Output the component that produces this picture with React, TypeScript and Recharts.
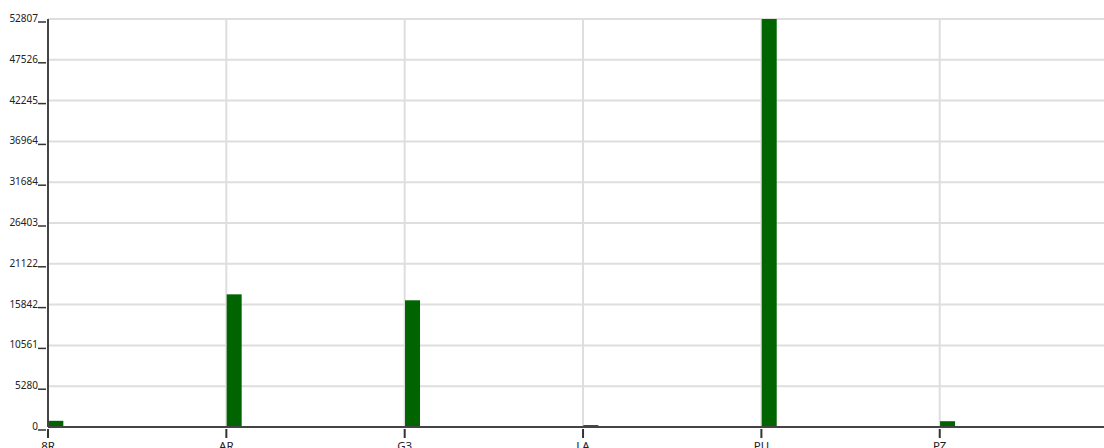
import React from 'react';
import { BarChart, Bar, XAxis, YAxis, CartesianGrid } from 'recharts';

// category labels and values
const CATEGORIES = ['8R', 'AR', 'G3', 'LA', 'PU', 'PZ'];
const VALUES = [800, 17170, 16400, 250, 52807, 750];
const Y_TICKS = [0, 5280, 10561, 15842, 21122, 26403, 31684, 36964, 42245, 47526, 52807];
// the plot runs past the right edge of the picture
const X_DOMAIN_MAX = 6.05;

const data = CATEGORIES.map((name, i) => ({ idx: i, name, value: VALUES[i] }));

const FONT = '"Noto Sans", "Open Sans", sans-serif';

const YTick: React.FC<any> = ({ x, y, payload }) => (
  <g>
    <line x1={x - 8} x2={x} y1={y + 3} y2={y + 3} stroke="#333" strokeWidth={1.5} />
    <text x={x - 8} y={y + 3} textAnchor="end" fontSize={10} fontFamily={FONT} fill="#222">
      {payload.value}
    </text>
  </g>
);

const XTick: React.FC<any> = ({ x, y, payload }) => (
  <g>
    <line x1={x} x2={x} y1={y} y2={y + 9} stroke="#333" strokeWidth={2} />
    <text x={x} y={y + 21} textAnchor="middle" fontSize={11.5} fontFamily={FONT} fill="#222">
      {CATEGORIES[payload.value]}
    </text>
  </g>
);

// bars start at the tick instead of being centred on it
const LeftBar: React.FC<any> = ({ x, y, width, height }) => (
  <rect x={x + width / 2} y={y} width={width} height={height} fill="#006400" />
);

export default function App() {
  return (
    <div style={{ position: 'absolute', left: 0, top: 0, width: 1104, height: 448, overflow: 'hidden', background: '#fff' }}>
      <BarChart
        width={1127}
        height={448}
        data={data}
        margin={{ top: 19, right: 0, left: 0, bottom: 0 }}
      >
        <CartesianGrid stroke="#dedede" strokeWidth={2} />
        <XAxis
          dataKey="idx"
          type="number"
          domain={[0, X_DOMAIN_MAX]}
          ticks={[0, 1, 2, 3, 4, 5]}
          allowDataOverflow
          height={21}
          tickSize={0}
          tickLine={false}
          axisLine={{ stroke: '#444', strokeWidth: 2 }}
          tick={<XTick />}
          interval={0}
        />
        <YAxis
          domain={[0, 52807]}
          ticks={Y_TICKS}
          width={48}
          tickSize={0}
          tickLine={false}
          axisLine={{ stroke: '#444', strokeWidth: 2 }}
          tick={<YTick />}
          interval={0}
        />
        <Bar dataKey="value" barSize={15} shape={<LeftBar />} isAnimationActive={false} />
      </BarChart>
    </div>
  );
}
